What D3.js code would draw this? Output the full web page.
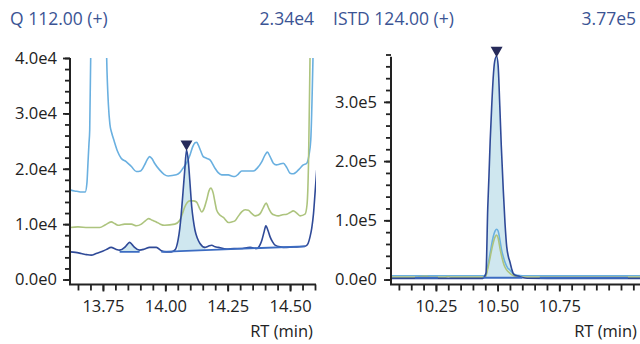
<!DOCTYPE html>
<html><head><meta charset="utf-8">
<script src="https://cdn.jsdelivr.net/npm/d3@7"></script>
<style>
html,body{margin:0;padding:0;background:#fff;}
svg{display:block;font-family:"Open Sans",sans-serif;}
</style></head>
<body><svg id="c" width="640" height="344"></svg>
<script>
// ---------- DATA ----------
const qTitle = "Q 112.00 (+)", qPeakLabel = "2.34e4";
const istdTitle = "ISTD 124.00 (+)", istdPeakLabel = "3.77e5";
const xTitle = "RT (min)";

const qXTicks = [13.75, 14.00, 14.25, 14.50];
const qXTickLabels = ["13.75", "14.00", "14.25", "14.50"];
const qYTicks = [0, 10000, 20000, 30000, 40000];
const qYTickLabels = ["0.0e0", "1.0e4", "2.0e4", "3.0e4", "4.0e4"];
const istdXTicks = [10.25, 10.50, 10.75];
const istdXTickLabels = ["10.25", "10.50", "10.75"];
const istdYTicks = [0, 100000, 200000, 300000];
const istdYTickLabels = ["0.0e0", "1.0e5", "2.0e5", "3.0e5"];

// Quantifier window traces [RT, intensity]
const qTarget = [[13.618,5000],[13.640,4900],[13.663,4700],[13.685,4500],[13.703,4400],[13.723,4700],[13.743,5000],[13.763,5400],[13.783,5800],[13.800,5500],[13.817,5300],[13.837,5800],[13.847,6300],[13.857,6700],[13.867,6300],[13.877,5800],[13.897,5300],[13.917,5500],[13.937,5800],[13.964,5800],[13.984,5200],[14.004,5000],[14.024,5000],[14.040,5400],[14.051,7100],[14.058,9200],[14.064,11900],[14.071,15800],[14.078,19800],[14.085,23400],[14.092,21500],[14.098,18000],[14.106,13100],[14.112,10800],[14.119,8900],[14.129,7400],[14.139,6500],[14.159,5800],[14.172,6000],[14.186,6200],[14.200,5900],[14.212,5800],[14.246,5500],[14.275,5600],[14.300,5600],[14.340,5800],[14.367,5600],[14.380,6300],[14.387,7100],[14.396,8600],[14.403,9700],[14.412,8800],[14.420,7700],[14.430,6800],[14.440,6200],[14.460,5900],[14.487,5800],[14.527,5900],[14.560,6000],[14.572,6500],[14.580,7700],[14.587,9300],[14.594,11900],[14.600,15500],[14.607,19800]];
const qQualifier1 = [[13.618,16200],[13.636,16000],[13.650,15900],[13.663,15800],[13.679,15800],[13.686,17500],[13.690,21000],[13.694,24500],[13.697,27000],[13.701,40200],[13.705,70000],[13.720,120000],[13.740,120000],[13.758,60000],[13.765,40000],[13.772,31500],[13.778,28000],[13.785,26500],[13.795,25000],[13.808,23200],[13.823,21900],[13.843,21300],[13.864,20400],[13.884,19500],[13.901,19600],[13.917,20700],[13.927,21600],[13.937,22200],[13.947,21800],[13.957,21000],[13.977,19800],[13.995,19000],[14.011,18700],[14.044,18900],[14.058,19300],[14.071,20100],[14.085,21000],[14.099,22500],[14.110,24000],[14.119,24700],[14.126,24800],[14.132,24300],[14.142,23200],[14.152,22200],[14.165,21900],[14.179,21600],[14.199,20100],[14.212,19300],[14.226,18900],[14.253,18900],[14.265,18700],[14.279,18600],[14.292,19000],[14.306,19600],[14.330,19600],[14.353,19600],[14.370,20200],[14.387,21300],[14.400,22500],[14.409,23000],[14.420,22200],[14.433,21000],[14.445,20700],[14.457,20800],[14.473,21000],[14.487,20200],[14.500,19200],[14.513,19100],[14.527,19500],[14.540,20100],[14.553,20700],[14.567,21000],[14.576,22500],[14.583,25200],[14.592,40200],[14.600,60000],[14.606,80000]];
const qQualifier2 = [[13.618,9400],[13.650,9500],[13.690,9400],[13.737,9400],[13.760,9900],[13.783,10400],[13.797,10100],[13.810,9800],[13.837,10000],[13.864,10000],[13.884,9700],[13.904,10000],[13.920,10600],[13.933,11000],[13.948,10700],[13.964,10400],[13.980,10000],[13.997,9800],[14.038,10000],[14.058,10700],[14.068,11800],[14.078,13100],[14.088,13900],[14.098,14200],[14.112,14200],[14.125,14000],[14.136,13000],[14.146,12200],[14.156,12900],[14.166,14400],[14.175,16000],[14.182,16500],[14.192,15600],[14.199,14000],[14.206,12500],[14.220,11600],[14.233,11200],[14.253,10300],[14.266,10400],[14.279,10600],[14.292,11400],[14.306,12200],[14.320,12600],[14.333,12500],[14.347,11900],[14.360,11500],[14.370,11600],[14.380,11900],[14.392,12900],[14.404,13800],[14.415,12800],[14.427,11900],[14.440,11600],[14.453,11500],[14.470,11700],[14.487,11800],[14.500,12100],[14.513,12400],[14.527,12000],[14.540,11500],[14.560,11800],[14.568,13500],[14.574,21000],[14.580,40000],[14.590,70000],[14.604,100000]];
// integration baselines [startRT, startInt, endRT, endInt]
const qBaselines = [[13.817,5000,13.897,5000],[13.984,5000,14.560,6000]];
const qFills = [[13.817,13.897,0],[14.050,14.160,1]]; // [from, to, baseline index]
const qApex = [14.085, 23400];

// ISTD window traces
const istdTarget = [[10.068,2000],[10.200,2000],[10.440,2000],[10.447,5000],[10.453,11000],[10.460,120000],[10.465,175000],[10.470,235000],[10.476,292000],[10.482,340000],[10.488,368000],[10.496,377000],[10.502,362000],[10.509,292000],[10.515,225000],[10.523,151000],[10.530,95000],[10.537,55000],[10.544,38000],[10.550,29600],[10.557,18000],[10.563,10500],[10.570,7500],[10.584,5900],[10.600,3500],[10.620,2200],[10.700,2000],[11.077,2000]];
const istdQualifier1 = [[10.068,6400],[10.300,6400],[10.445,6500],[10.453,9000],[10.460,22000],[10.470,45000],[10.480,68000],[10.490,82000],[10.496,85000],[10.502,82000],[10.510,65000],[10.516,50000],[10.523,38500],[10.530,29000],[10.540,20000],[10.550,16000],[10.560,11000],[10.570,8500],[10.580,7200],[10.600,6500],[11.077,6400]];
const istdQualifier2 = [[10.068,4000],[10.170,4000],[10.190,5200],[10.212,5500],[10.230,4200],[10.285,4000],[10.300,5000],[10.310,4000],[10.450,4000],[10.460,18000],[10.470,38000],[10.480,58000],[10.490,72000],[10.496,75000],[10.502,70000],[10.510,52000],[10.517,38500],[10.525,26000],[10.535,17000],[10.550,10500],[10.560,7500],[10.570,5500],[10.590,4200],[11.077,4000]];
const istdBaselines = [[10.165,3000,10.258,3000],[10.440,3000,10.600,3000],[10.671,3000,11.028,3000]];
const istdFills = [[10.444,10.600,1]];
const istdApex = [10.496, 377000];

// ---------- STYLE ----------
const C = {
  title: "#3b5494", axis: "#222", text: "#222",
  q1: "#6ab0e0", q2: "#adc47e", target: "#2f4a98",
  base: "#3c6cc2", fill: "#cfe7ef", marker: "#262a5a"
};
const FS = 16.5;

const svg = d3.select("#c");

function fmtFromLabels(ticks, labels){ return v => labels[ticks.indexOf(v)]; }

function panel(o){
  const g = svg.append("g");
  const x = d3.scaleLinear().domain(o.xDomain).range(o.xRange);
  const y = d3.scaleLinear().domain(o.yDomain).range(o.yRange);
  const clipId = "clip" + o.id;
  svg.append("clipPath").attr("id", clipId).append("rect")
    .attr("x", o.xRange[0]).attr("y", o.yRange[1])
    .attr("width", o.xRange[1]-o.xRange[0]).attr("height", o.yRange[0]-o.yRange[1]);
  const plot = g.append("g").attr("clip-path", `url(#${clipId})`);

  const baseAt = (b, t) => b[1] + (b[3]-b[1]) * (t-b[0])/(b[2]-b[0]);
  const interp = (arr, t) => {
    const i = d3.bisector(d => d[0]).left(arr, t);
    if (i <= 0) return arr[0][1];
    if (i >= arr.length) return arr[arr.length-1][1];
    const a = arr[i-1], b = arr[i];
    return a[1] + (b[1]-a[1])*(t-a[0])/(b[0]-a[0]);
  };
  // fills
  o.fills.forEach(f => {
    const b = o.baselines[f[2]];
    const pts = [[f[0], interp(o.target, f[0])]]
      .concat(o.target.filter(d => d[0] > f[0] && d[0] < f[1]))
      .concat([[f[1], interp(o.target, f[1])]]);
    plot.append("path").datum(pts)
      .attr("fill", C.fill).attr("stroke", "none")
      .attr("d", d3.area().x(d => x(d[0])).y0(d => y(baseAt(b, d[0]))).y1(d => y(d[1])).curve(d3.curveMonotoneX));
  });
  const line = d3.line().x(d => x(d[0])).y(d => y(d[1])).curve(d3.curveMonotoneX);
  [[o.q1, C.q1], [o.q2, C.q2], [o.target, C.target]].forEach(([data, col]) => {
    plot.append("path").datum(data).attr("fill", "none").attr("stroke", col)
      .attr("stroke-width", 1.6).attr("stroke-linejoin", "round").attr("d", line);
  });
  // baselines
  o.baselines.forEach(b => {
    plot.append("line").attr("x1", x(b[0])).attr("y1", y(b[1])).attr("x2", x(b[2])).attr("y2", y(b[3]))
      .attr("stroke", C.base).attr("stroke-width", 1.8);
  });
  // apex marker
  g.append("path").attr("d", d3.symbol(d3.symbolTriangle, 62)())
    .attr("fill", C.marker)
    .attr("transform", `translate(${x(o.apex[0])},${y(o.apex[1]) - 6}) rotate(180)`);

  // axes: minor ticks
  const yMinor = d3.range(0, o.yDomain[1] + 1, o.yMinorStep);
  const xMinor = d3.range(Math.ceil(o.xDomain[0]/0.05)*0.05, o.xDomain[1], 0.05).map(v => +v.toFixed(2));
  const ax = g.append("g").attr("transform", `translate(${o.xRange[0]},0)`)
    .call(d3.axisLeft(y).tickValues(yMinor).tickSize(5).tickFormat(""));
  ax.select(".domain").remove();
  const ay = g.append("g").attr("transform", `translate(${o.xRange[0]},0)`)
    .call(d3.axisLeft(y).tickValues(o.yTicks).tickSize(7).tickPadding(o.yPad)
      .tickFormat(fmtFromLabels(o.yTicks, o.yLabels)));
  ay.select(".domain").remove();
  g.append("line").attr("x1", o.xRange[0]).attr("x2", o.xRange[0])
    .attr("y1", y(o.yDomain[0])).attr("y2", y(o.yTop)).attr("stroke", C.axis).attr("stroke-width", 2);

  const bx = g.append("g").attr("transform", `translate(0,${o.yRange[0]})`)
    .call(d3.axisBottom(x).tickValues(xMinor).tickSize(6).tickFormat(""));
  bx.select(".domain").remove();
  const bxm = g.append("g").attr("transform", `translate(0,${o.yRange[0]})`)
    .call(d3.axisBottom(x).tickValues(o.xTicks).tickSize(7).tickPadding(9)
      .tickFormat(fmtFromLabels(o.xTicks, o.xLabels)));
  bxm.select(".domain").remove();
  g.append("line").attr("x1", o.xRange[0] - 1).attr("x2", o.xRange[1])
    .attr("y1", o.yRange[0]).attr("y2", o.yRange[0]).attr("stroke", C.axis).attr("stroke-width", 2);

  g.selectAll(".tick line").attr("stroke", C.axis).attr("stroke-width", 1.8);
  g.selectAll(".tick text").attr("fill", C.text).style("font-size", FS + "px").style("font-family", '"Open Sans",sans-serif');

  // labels
  g.append("text").attr("x", o.xRange[1] - 3).attr("y", 337).attr("text-anchor", "end")
    .attr("fill", C.text).style("font-size", FS + "px").text(xTitle);
  g.append("text").attr("x", o.titleX).attr("y", 25).attr("fill", C.title)
    .style("font-size", "17.5px").text(o.title);
  g.append("text").attr("x", o.valX).attr("y", 25).attr("fill", C.title).attr("text-anchor", "end")
    .style("font-size", "17.5px").text(o.val);
}

panel({
  id: "q", xDomain: [13.618, 14.604], xRange: [70, 316],
  yDomain: [-900, 40000], yRange: [284.5, 58], yTop: 40000, yMinorStep: 2000, yPad: 6,
  xTicks: qXTicks, xLabels: qXTickLabels, yTicks: qYTicks, yLabels: qYTickLabels,
  target: qTarget, q1: qQualifier1, q2: qQualifier2, baselines: qBaselines, fills: qFills, apex: qApex,
  title: qTitle, val: qPeakLabel, titleX: 10, valX: 314
});
panel({
  id: "i", xDomain: [10.068, 11.077], xRange: [391, 640],
  yDomain: [-8400, 380000], yRange: [284.5, 54.5], yTop: 376000, yMinorStep: 20000, yPad: 7,
  xTicks: istdXTicks, xLabels: istdXTickLabels, yTicks: istdYTicks, yLabels: istdYTickLabels,
  target: istdTarget, q1: istdQualifier1, q2: istdQualifier2, baselines: istdBaselines, fills: istdFills, apex: istdApex,
  title: istdTitle, val: istdPeakLabel, titleX: 333, valX: 636
});
</script></body></html>
